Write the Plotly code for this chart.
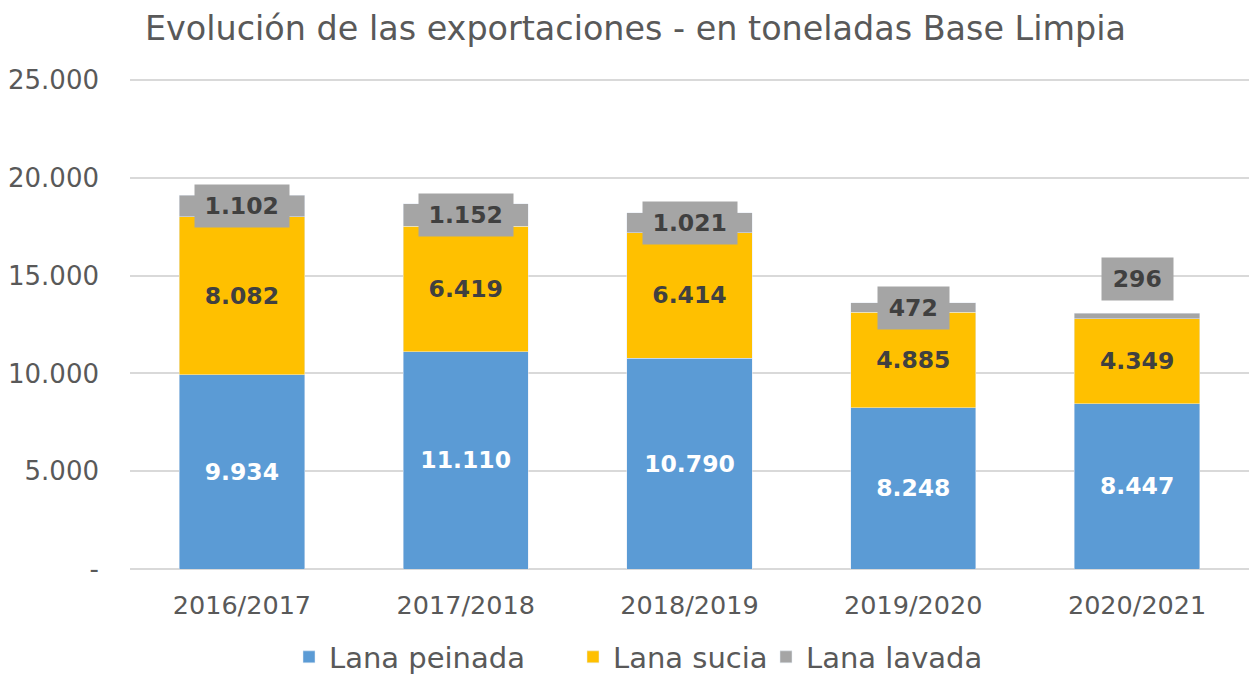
import plotly.graph_objects as go

categories = ["2016/2017", "2017/2018", "2018/2019", "2019/2020", "2020/2021"]
lana_peinada = [9934, 11110, 10790, 8248, 8447]
lana_sucia = [8082, 6419, 6414, 4885, 4349]
lana_lavada = [1102, 1152, 1021, 472, 296]
y_ticks = [0, 5000, 10000, 15000, 20000, 25000]

def fmt(v):
    return f"{v:,}".replace(",", ".")

tick_text = ["-" if v == 0 else fmt(v) for v in y_ticks]

FONT = "DejaVu Sans"
BLUE, YELLOW, GRAY = "#5B9BD5", "#FFC000", "#A5A5A5"
DARK = "#404040"
AXIS = "#595959"
LBL = 23.5

fig = go.Figure()
fig.add_trace(go.Bar(
    name="Lana peinada", x=categories, y=lana_peinada, marker_color=BLUE,
    text=[fmt(v) for v in lana_peinada], textposition="inside",
    insidetextanchor="middle", constraintext="none", legend="legend",
    textfont=dict(family=FONT, size=LBL, color="white", weight="bold"),
))
fig.add_trace(go.Bar(
    name="Lana sucia", x=categories, y=lana_sucia, marker_color=YELLOW,
    text=[fmt(v) for v in lana_sucia], textposition="inside",
    insidetextanchor="middle", constraintext="none", legend="legend2",
    textfont=dict(family=FONT, size=LBL, color=DARK, weight="bold"),
))
fig.add_trace(go.Bar(
    name="Lana lavada", x=categories, y=lana_lavada, marker_color=GRAY,
    textposition="none", hoverinfo="x+y", legend="legend3",
))

label_shift = [0, 0, 0, 0, 37]
for i, c in enumerate(categories):
    ymid = lana_peinada[i] + lana_sucia[i] + lana_lavada[i] / 2
    t = fmt(lana_lavada[i])
    fig.add_annotation(
        x=c, y=ymid, text=f"<b>{t}</b>", showarrow=False,
        xref="x", yref="y", yshift=label_shift[i],
        font=dict(family=FONT, size=LBL, color=DARK),
        bgcolor=GRAY, borderpad=0,
        width=11.5 * len(t) + 36, height=42,
    )

def leg(xpx):
    return dict(
        orientation="h", xref="container", x=xpx / 1249, xanchor="left",
        yref="container", y=17 / 674, yanchor="middle",
        font=dict(family=FONT, size=29, color=AXIS),
        itemwidth=30, bgcolor="rgba(0,0,0,0)",
    )

fig.update_layout(
    barmode="stack",
    bargap=0.44,
    width=1249, height=674,
    margin=dict(l=130, r=0, t=79, b=105, autoexpand=False),
    paper_bgcolor="white", plot_bgcolor="white",
    font=dict(family=FONT, color=AXIS),
    title=dict(
        text="Evolución de las exportaciones - en toneladas Base Limpia",
        font=dict(family=FONT, size=33.4, color=AXIS),
        xref="container", yref="container",
        x=145 / 1249, xanchor="left", y=1 - 28 / 674, yanchor="middle",
    ),
    showlegend=True,
    legend=leg(289),
    legend2=leg(573),
    legend3=leg(766),
    xaxis=dict(
        showgrid=False, showline=False,
        tickfont=dict(family=FONT, size=25.5, color=AXIS),
        ticks="", ticklabelstandoff=18,
    ),
    yaxis=dict(
        range=[0, 25060], tickvals=y_ticks, ticktext=tick_text,
        showgrid=True, gridcolor="#D9D9D9", gridwidth=1.5,
        zeroline=True, zerolinecolor="#D9D9D9", zerolinewidth=1.5,
        showline=False, ticks="",
        tickfont=dict(family=FONT, size=26, color=AXIS),
        ticklabelstandoff=30,
    ),
)

fig.write_html("out.html", config={"displayModeBar": False},
               post_script="document.body.style.margin='0';")
